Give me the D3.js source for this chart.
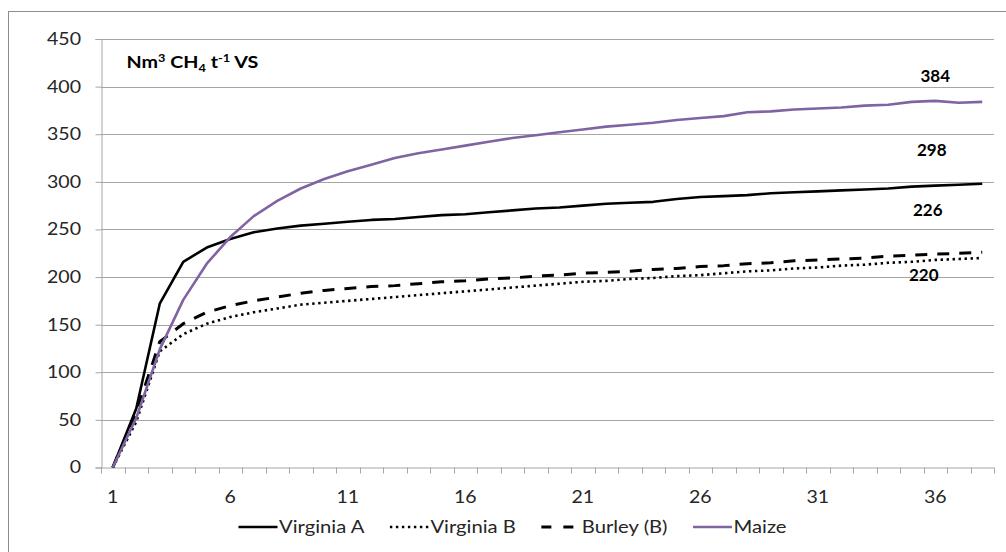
<!DOCTYPE html>
<html>
<head>
<meta charset="utf-8">
<script src="https://cdn.jsdelivr.net/npm/d3@7"></script>
<style>
  html, body { margin: 0; padding: 0; background: #fff; }
  svg { display: block; font-family: Lato, "Open Sans", sans-serif; }
</style>
</head>
<body>
<svg id="chart" width="1006" height="552"></svg>
<script>
const days = d3.range(1, 39);
const xTickLabels = [1, 6, 11, 16, 21, 26, 31, 36];
const yTicks = [0, 50, 100, 150, 200, 250, 300, 350, 400, 450];

const virginiaA = [0, 62, 172, 216, 231, 240, 247, 251, 254, 256, 258, 260, 261, 263, 265, 266, 268, 270, 272, 273, 275, 277, 278, 279, 282, 284, 285, 286, 288, 289, 290, 291, 292, 293, 295, 296, 297, 298];
const virginiaB = [0, 48, 122, 140, 151, 158, 163, 167, 171, 173, 175, 177, 179, 181, 183, 185, 187, 189, 191, 193, 195, 196, 198, 199, 201, 202, 204, 206, 207, 209, 210, 212, 213, 215, 216, 218, 219, 220];
const burley = [0, 58, 132, 151, 163, 170, 175, 179, 183, 186, 188, 190, 191, 193, 195, 196, 198, 199, 201, 202, 204, 205, 206, 208, 209, 211, 212, 214, 215, 217, 218, 219, 220, 222, 223, 224, 225, 226];
const maize = [0, 52, 124, 176, 214, 242, 264, 280, 293, 303, 311, 318, 325, 330, 334, 338, 342, 346, 349, 352, 355, 358, 360, 362, 365, 367, 369, 373, 374, 376, 377, 378, 380, 381, 384, 385, 383, 384];

const seriesNames = ["Virginia A", "Virginia B", "Burley (B)", "Maize"];
const endLabels = ["384", "298", "226", "220"];

const series = [
  { name: seriesNames[0], values: virginiaA, color: "#000000", width: 2.6, dash: null, legendDash: null },
  { name: seriesNames[1], values: virginiaB, color: "#000000", width: 2.6, dash: "2.4,3.6", legendDash: "2.4,3.6" },
  { name: seriesNames[2], values: burley, color: "#000000", width: 3, dash: "12,10", legendDash: "10,12" },
  { name: seriesNames[3], values: maize, color: "#8064A2", width: 2.6, dash: null, legendDash: null }
];

const svg = d3.select("#chart");
const KT = 1.15;   // horizontal stretch of tick text
const KL = 1.19;   // horizontal stretch of legend text
const KH = 1.16;   // horizontal stretch of title

// outer border
svg.append("rect")
  .attr("x", 8.5).attr("y", 11.5)
  .attr("width", 1010).attr("height", 560)
  .attr("fill", "none").attr("stroke", "#8c8c8c").attr("stroke-width", 1);

const pLeft = 101, pRight = 994, pTop = 39, pBottom = 467.5;

const x = d3.scaleBand().domain(days).range([pLeft, pRight]).padding(0);
const y = d3.scaleLinear().domain([0, 450]).range([pBottom, pTop]);

// gridlines
svg.append("g")
  .selectAll("line")
  .data(yTicks.filter(d => d > 0))
  .join("line")
  .attr("x1", pLeft).attr("x2", pRight)
  .attr("y1", d => Math.round(y(d)) + 0.5).attr("y2", d => Math.round(y(d)) + 0.5)
  .attr("stroke", "#a6a6a6").attr("stroke-width", 1);

// y axis
const yAxis = svg.append("g")
  .attr("transform", `translate(${pLeft + 0.5},0)`)
  .call(d3.axisLeft(y).tickValues(yTicks).tickSize(6).tickPadding(8));
yAxis.select(".domain").attr("stroke", "#a6a6a6");
yAxis.selectAll(".tick line").attr("stroke", "#a6a6a6");
yAxis.selectAll(".tick text")
  .attr("x", 0)
  .attr("transform", `translate(-20.5,0) scale(${KT},1)`)
  .attr("fill", "#262626").attr("font-size", 17).attr("font-family", "Lato, sans-serif");

// x axis
const xAxisG = svg.append("g").attr("transform", `translate(0,${pBottom})`);
xAxisG.append("line")
  .attr("x1", pLeft).attr("x2", pRight).attr("y1", 0.5).attr("y2", 0.5)
  .attr("stroke", "#a6a6a6");
const boundaries = days.map(d => x(d)).concat([x(days[days.length - 1]) + x.bandwidth()]);
xAxisG.selectAll("line.tk")
  .data(boundaries)
  .join("line")
  .attr("class", "tk")
  .attr("x1", d => Math.round(d) + 0.5).attr("x2", d => Math.round(d) + 0.5)
  .attr("y1", 0).attr("y2", 6)
  .attr("stroke", "#a6a6a6");
xAxisG.selectAll("text")
  .data(xTickLabels)
  .join("text")
  .attr("transform", d => `translate(${x(d) + x.bandwidth() / 2},35) scale(${KT},1)`)
  .attr("text-anchor", "middle")
  .attr("fill", "#262626")
  .attr("font-size", 17)
  .text(d => d);

// lines
const line = d3.line()
  .x((d, i) => x(days[i]) + x.bandwidth() / 2)
  .y(d => y(d));

svg.append("g")
  .selectAll("path")
  .data(series)
  .join("path")
  .attr("d", s => line(s.values))
  .attr("fill", "none")
  .attr("stroke", s => s.color)
  .attr("stroke-width", s => s.width)
  .attr("stroke-dasharray", s => s.dash)
  .attr("stroke-linejoin", "round");

// end value labels
const lastCx = x(36) + x.bandwidth() / 2;
const labelPos = [
  { dx: 0, v: maize[maize.length - 1], dy: -20 },
  { dx: -3.5, v: virginiaA[virginiaA.length - 1], dy: -27.5 },
  { dx: -7.5, v: burley[burley.length - 1], dy: -36.5 },
  { dx: -11.5, v: virginiaB[virginiaB.length - 1], dy: 22.5 }
];
svg.append("g")
  .selectAll("text")
  .data(endLabels)
  .join("text")
  .attr("x", (d, i) => lastCx + labelPos[i].dx)
  .attr("y", (d, i) => y(labelPos[i].v) + labelPos[i].dy)
  .attr("text-anchor", "middle")
  .attr("font-weight", "bold")
  .attr("font-size", 17)
  .attr("fill", "#000")
  .text(d => d);

// title
const title = svg.append("text")
  .attr("transform", `translate(126.5,68) scale(${KH},1)`)
  .attr("font-weight", "bold").attr("font-size", 17).attr("fill", "#000");
title.append("tspan").text("Nm");
title.append("tspan").attr("font-size", 11).attr("dy", -6).text("3");
title.append("tspan").attr("dy", 6).text(" CH");
title.append("tspan").attr("font-size", 11).attr("dy", 4).text("4");
title.append("tspan").attr("dy", -4).text(" t");
title.append("tspan").attr("font-size", 11).attr("dy", -6).text("-1");
title.append("tspan").attr("dy", 6).text(" VS");

// legend
const legendY = 527;
const sampleLen = 39;
const legend = svg.append("g");
let cursor = 238.5;
series.forEach((s, i) => {
  legend.append("line")
    .attr("x1", cursor).attr("x2", cursor + sampleLen)
    .attr("y1", legendY).attr("y2", legendY)
    .attr("stroke", s.color)
    .attr("stroke-width", s.width)
    .attr("stroke-dasharray", s.legendDash);
  const tx = cursor + sampleLen + 1.5;
  const t = legend.append("text")
    .attr("transform", `translate(${tx},${legendY + 6}) scale(${KL},1)`)
    .attr("font-size", 17)
    .attr("fill", "#262626")
    .text(s.name);
  const w = t.node().getComputedTextLength() * KL;
  cursor = tx + w + 25.5;
});
</script>
</body>
</html>
